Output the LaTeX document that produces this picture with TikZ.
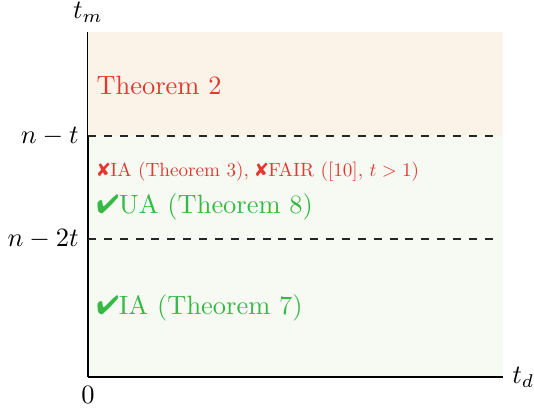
\documentclass[tikz,border=0pt]{standalone}
\usepackage{pifont}
\usepackage{tikz}
\usetikzlibrary{positioning}

\definecolor{thmred}{RGB}{228,55,48}
\definecolor{thmgreen}{RGB}{55,185,70}
\definecolor{upperfill}{RGB}{251,242,232}
\definecolor{lowerfill}{RGB}{247,250,243}

\begin{document}
\begin{tikzpicture}[
    x=0.378pt, y=-0.378pt,
    axis/.style={line width=0.4pt, black},
    bound/.style={dashed, thick, black!85},
    region/.style={anchor=base west, inner sep=0pt, align=left}
]
  \useasboundingbox (0,0) rectangle (534,409);

  % Corners of the plot
  \coordinate (O) at (88,377);
  \coordinate (Ytop) at (88,32);
  \coordinate (Xend) at (503,377);
  \coordinate (Tnt) at (88,136);
  \coordinate (Tnt2) at (88,239);
  \coordinate (Ent) at (495,136);
  \coordinate (Ent2) at (495,239);

  % Regions
  \fill[lowerfill] (Tnt) rectangle (Xend);
  \draw[axis] (O) -- (Ytop);
  \draw[axis] (O) -- (Xend);
  \fill[upperfill] (Ytop) rectangle (503,136);

  % Thresholds
  \draw[bound] (Tnt) -- (Ent);
  \draw[bound] (Tnt2) -- (Ent2);

  % Axis labels
  \node[above] (tm) at (Ytop) {$t_m$};
  \node[right] (td) at (Xend) {$t_d$};
  \node[below] (zero) at (O) {$0$};
  \node[left] (nt) at (Tnt) {$n-t$};
  \node[left] (nt2) at (Tnt2) {$n-2t$};

  % Results
  \node[region, thmred] (T2) at (96,94) {Theorem 2};
  \node[region, thmred, scale=0.725] (T3) at (97,176)
    {\ding{56}IA (Theorem 3), \ding{56}FAIR ([10], $t > 1$)};
  \node[region, thmgreen] (T8) at (96,213) {\ding{52}UA (Theorem 8)};
  \node[region, thmgreen] (T7) at (96,314) {\ding{52}IA (Theorem 7)};
\end{tikzpicture}
\end{document}
